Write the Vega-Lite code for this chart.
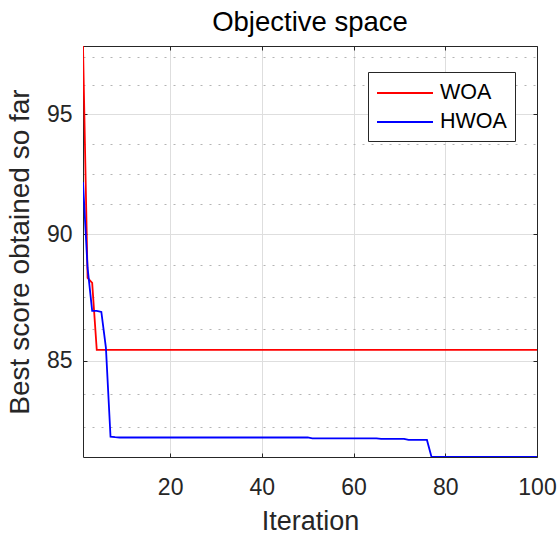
{
  "$schema": "https://vega.github.io/schema/vega-lite/v6.json",
  "width": 454,
  "height": 411,
  "autosize": {"type": "none"},
  "padding": {"left": 83, "top": 46, "right": 21, "bottom": 79},
  "background": "white",
  "config": {"view": {"stroke": null}, "font": "Liberation Sans", "axis": {"minExtent": 0, "labelFlush": false}},
  "title": {"text": "Objective space", "fontSize": 27.5, "font": "Liberation Sans", "fontWeight": "normal", "color": "#000000", "baseline": "alphabetic", "offset": -13, "anchor": "middle"},
  "data": {"values": [
    {"i": 1, "WOA": 97.98, "HWOA": 92.14},
    {"i": 2, "WOA": 88.24, "HWOA": 88.64},
    {"i": 3, "WOA": 88.04, "HWOA": 86.94},
    {"i": 4, "WOA": 85.42, "HWOA": 86.94},
    {"i": 5, "WOA": 85.42, "HWOA": 86.9},
    {"i": 6, "WOA": 85.42, "HWOA": 85.5},
    {"i": 7, "WOA": 85.42, "HWOA": 82.14},
    {"i": 8, "WOA": 85.42, "HWOA": 82.12},
    {"i": 9, "WOA": 85.42, "HWOA": 82.11},
    {"i": 10, "WOA": 85.42, "HWOA": 82.11},
    {"i": 11, "WOA": 85.42, "HWOA": 82.11},
    {"i": 12, "WOA": 85.42, "HWOA": 82.11},
    {"i": 13, "WOA": 85.42, "HWOA": 82.11},
    {"i": 14, "WOA": 85.42, "HWOA": 82.11},
    {"i": 15, "WOA": 85.42, "HWOA": 82.11},
    {"i": 16, "WOA": 85.42, "HWOA": 82.11},
    {"i": 17, "WOA": 85.42, "HWOA": 82.11},
    {"i": 18, "WOA": 85.42, "HWOA": 82.11},
    {"i": 19, "WOA": 85.42, "HWOA": 82.11},
    {"i": 20, "WOA": 85.42, "HWOA": 82.11},
    {"i": 21, "WOA": 85.42, "HWOA": 82.11},
    {"i": 22, "WOA": 85.42, "HWOA": 82.11},
    {"i": 23, "WOA": 85.42, "HWOA": 82.11},
    {"i": 24, "WOA": 85.42, "HWOA": 82.11},
    {"i": 25, "WOA": 85.42, "HWOA": 82.11},
    {"i": 26, "WOA": 85.42, "HWOA": 82.11},
    {"i": 27, "WOA": 85.42, "HWOA": 82.11},
    {"i": 28, "WOA": 85.42, "HWOA": 82.11},
    {"i": 29, "WOA": 85.42, "HWOA": 82.11},
    {"i": 30, "WOA": 85.42, "HWOA": 82.11},
    {"i": 31, "WOA": 85.42, "HWOA": 82.11},
    {"i": 32, "WOA": 85.42, "HWOA": 82.11},
    {"i": 33, "WOA": 85.42, "HWOA": 82.11},
    {"i": 34, "WOA": 85.42, "HWOA": 82.11},
    {"i": 35, "WOA": 85.42, "HWOA": 82.11},
    {"i": 36, "WOA": 85.42, "HWOA": 82.11},
    {"i": 37, "WOA": 85.42, "HWOA": 82.11},
    {"i": 38, "WOA": 85.42, "HWOA": 82.11},
    {"i": 39, "WOA": 85.42, "HWOA": 82.11},
    {"i": 40, "WOA": 85.42, "HWOA": 82.11},
    {"i": 41, "WOA": 85.42, "HWOA": 82.11},
    {"i": 42, "WOA": 85.42, "HWOA": 82.11},
    {"i": 43, "WOA": 85.42, "HWOA": 82.11},
    {"i": 44, "WOA": 85.42, "HWOA": 82.11},
    {"i": 45, "WOA": 85.42, "HWOA": 82.11},
    {"i": 46, "WOA": 85.42, "HWOA": 82.11},
    {"i": 47, "WOA": 85.42, "HWOA": 82.11},
    {"i": 48, "WOA": 85.42, "HWOA": 82.11},
    {"i": 49, "WOA": 85.42, "HWOA": 82.11},
    {"i": 50, "WOA": 85.42, "HWOA": 82.11},
    {"i": 51, "WOA": 85.42, "HWOA": 82.08},
    {"i": 52, "WOA": 85.42, "HWOA": 82.08},
    {"i": 53, "WOA": 85.42, "HWOA": 82.08},
    {"i": 54, "WOA": 85.42, "HWOA": 82.08},
    {"i": 55, "WOA": 85.42, "HWOA": 82.08},
    {"i": 56, "WOA": 85.42, "HWOA": 82.08},
    {"i": 57, "WOA": 85.42, "HWOA": 82.08},
    {"i": 58, "WOA": 85.42, "HWOA": 82.08},
    {"i": 59, "WOA": 85.42, "HWOA": 82.08},
    {"i": 60, "WOA": 85.42, "HWOA": 82.08},
    {"i": 61, "WOA": 85.42, "HWOA": 82.08},
    {"i": 62, "WOA": 85.42, "HWOA": 82.08},
    {"i": 63, "WOA": 85.42, "HWOA": 82.08},
    {"i": 64, "WOA": 85.42, "HWOA": 82.08},
    {"i": 65, "WOA": 85.42, "HWOA": 82.08},
    {"i": 66, "WOA": 85.42, "HWOA": 82.06},
    {"i": 67, "WOA": 85.42, "HWOA": 82.06},
    {"i": 68, "WOA": 85.42, "HWOA": 82.06},
    {"i": 69, "WOA": 85.42, "HWOA": 82.06},
    {"i": 70, "WOA": 85.42, "HWOA": 82.06},
    {"i": 71, "WOA": 85.42, "HWOA": 82.06},
    {"i": 72, "WOA": 85.42, "HWOA": 82.02},
    {"i": 73, "WOA": 85.42, "HWOA": 82.02},
    {"i": 74, "WOA": 85.42, "HWOA": 82.02},
    {"i": 75, "WOA": 85.42, "HWOA": 82.02},
    {"i": 76, "WOA": 85.42, "HWOA": 82.02},
    {"i": 77, "WOA": 85.42, "HWOA": 81.39},
    {"i": 78, "WOA": 85.42, "HWOA": 81.39},
    {"i": 79, "WOA": 85.42, "HWOA": 81.39},
    {"i": 80, "WOA": 85.42, "HWOA": 81.39},
    {"i": 81, "WOA": 85.42, "HWOA": 81.39},
    {"i": 82, "WOA": 85.42, "HWOA": 81.39},
    {"i": 83, "WOA": 85.42, "HWOA": 81.39},
    {"i": 84, "WOA": 85.42, "HWOA": 81.39},
    {"i": 85, "WOA": 85.42, "HWOA": 81.39},
    {"i": 86, "WOA": 85.42, "HWOA": 81.39},
    {"i": 87, "WOA": 85.42, "HWOA": 81.39},
    {"i": 88, "WOA": 85.42, "HWOA": 81.39},
    {"i": 89, "WOA": 85.42, "HWOA": 81.39},
    {"i": 90, "WOA": 85.42, "HWOA": 81.39},
    {"i": 91, "WOA": 85.42, "HWOA": 81.39},
    {"i": 92, "WOA": 85.42, "HWOA": 81.39},
    {"i": 93, "WOA": 85.42, "HWOA": 81.39},
    {"i": 94, "WOA": 85.42, "HWOA": 81.39},
    {"i": 95, "WOA": 85.42, "HWOA": 81.39},
    {"i": 96, "WOA": 85.42, "HWOA": 81.39},
    {"i": 97, "WOA": 85.42, "HWOA": 81.39},
    {"i": 98, "WOA": 85.42, "HWOA": 81.39},
    {"i": 99, "WOA": 85.42, "HWOA": 81.39},
    {"i": 100, "WOA": 85.42, "HWOA": 81.39}
  ]},
  "transform": [{"fold": ["WOA", "HWOA"], "as": ["algo", "score"]}],
  "layer": [
    {
      "mark": {"type": "line", "opacity": 0},
      "encoding": {
        "x": {"field": "i", "type": "quantitative", "scale": {"domain": [1, 100], "nice": false, "zero": false}, "axis": null},
        "y": {"field": "score", "type": "quantitative", "scale": {"type": "log", "domain": [81.39, 97.98], "nice": false, "zero": false},
              "axis": {"orient": "left", "values": [82.5, 83.75, 86.25, 87.5, 88.75, 91.25, 92.5, 93.75, 96.25, 97.5], "grid": true, "gridDash": [2, 7], "gridColor": "#b4b4b4", "gridWidth": 1, "labels": false, "ticks": false, "domain": false, "title": null}},
        "detail": {"field": "algo"}
      }
    },
    {
      "mark": {"type": "line", "strokeWidth": 1.8, "clip": true},
      "encoding": {
        "x": {"field": "i", "type": "quantitative", "scale": {"domain": [1, 100], "nice": false, "zero": false},
              "axis": {"orient": "bottom", "values": [20, 40, 60, 80, 100], "grid": true, "gridColor": "#dedede", "gridWidth": 1, "ticks": false, "domain": true, "domainColor": "#262626", "domainWidth": 1, "labelFontSize": 23, "labelFont": "Liberation Sans", "labelColor": "#262626", "labelPadding": 19, "labelFlush": false, "title": "Iteration", "titleFont": "Liberation Sans", "titleFontSize": 27, "titleFontWeight": "normal", "titleColor": "#262626", "titlePadding": 9}},
        "y": {"field": "score", "type": "quantitative", "scale": {"type": "log", "domain": [81.39, 97.98], "nice": false, "zero": false},
              "axis": {"orient": "left", "values": [85, 90, 95], "format": "d", "grid": true, "gridColor": "#dedede", "gridWidth": 1, "ticks": false, "domain": true, "domainColor": "#262626", "domainWidth": 1, "labelFontSize": 23, "labelFont": "Liberation Sans", "labelColor": "#262626", "labelPadding": 11, "title": "Best score obtained so far", "titleFont": "Liberation Sans", "titleFontSize": 28, "titleFontWeight": "normal", "titleColor": "#262626", "titlePadding": 12}},
        "color": {"field": "algo", "type": "nominal", "scale": {"domain": ["WOA", "HWOA"], "range": ["#ff0000", "#0000ff"]},
                  "legend": {"title": null, "orient": "none", "legendX": 285, "legendY": 26, "direction": "vertical", "symbolType": "M-2.333,0H2.333", "symbolSize": 576, "symbolStrokeWidth": 1.8, "symbolOffset": 16, "labelOffset": 22, "labelFontSize": 21.5, "labelFont": "Liberation Sans", "labelColor": "#000000", "strokeColor": "#262626", "fillColor": "#ffffff", "padding": 8, "rowPadding": 5}}
      }
    },
    {
      "mark": {"type": "line", "opacity": 0},
      "encoding": {
        "x": {"field": "i", "type": "quantitative", "scale": {"domain": [1, 100], "nice": false, "zero": false},
              "axis": {"orient": "bottom", "values": [20, 40, 60, 80, 100], "grid": false, "ticks": true, "tickSize": -4, "tickColor": "#262626", "labels": false, "domain": false, "title": null}},
        "y": {"field": "score", "type": "quantitative", "scale": {"type": "log", "domain": [81.39, 97.98], "nice": false, "zero": false},
              "axis": {"orient": "left", "values": [85, 90, 95], "grid": false, "ticks": true, "tickSize": -4, "tickColor": "#262626", "labels": false, "domain": false, "title": null}},
        "detail": {"field": "algo"}
      }
    },
    {
      "mark": {"type": "line", "opacity": 0},
      "encoding": {
        "x": {"field": "i", "type": "quantitative", "scale": {"domain": [1, 100], "nice": false, "zero": false},
              "axis": {"orient": "top", "values": [20, 40, 60, 80, 100], "grid": false, "ticks": true, "tickSize": -4, "tickColor": "#262626", "labels": false, "domain": true, "domainColor": "#262626", "domainWidth": 1, "title": null}},
        "y": {"field": "score", "type": "quantitative", "scale": {"type": "log", "domain": [81.39, 97.98], "nice": false, "zero": false},
              "axis": {"orient": "right", "values": [85, 90, 95], "grid": false, "ticks": true, "tickSize": -4, "tickColor": "#262626", "labels": false, "domain": true, "domainColor": "#262626", "domainWidth": 1, "title": null}},
        "detail": {"field": "algo"}
      }
    }
  ],
  "resolve": {"axis": {"x": "independent", "y": "independent"}}
}
